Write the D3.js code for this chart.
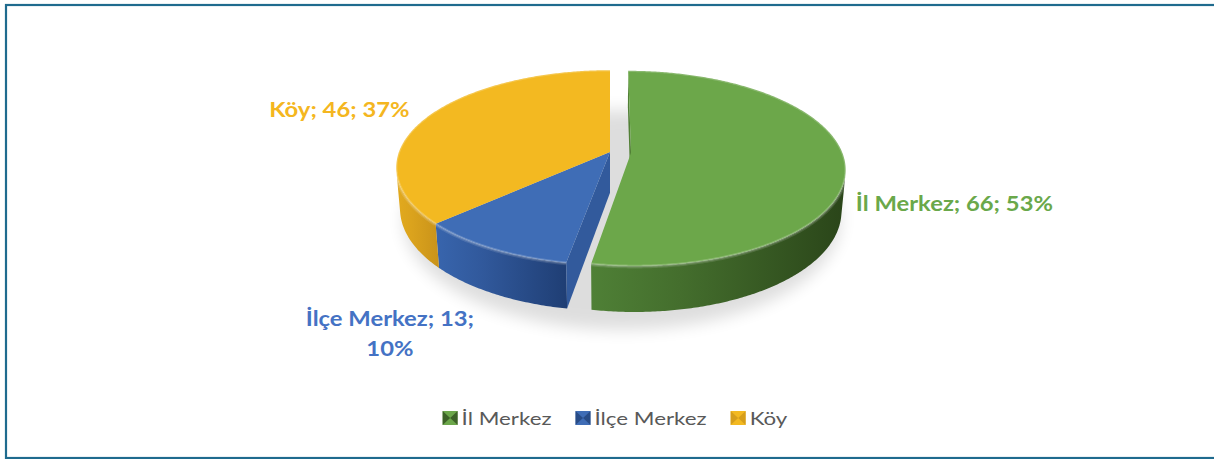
<!DOCTYPE html>
<html>
<head>
<meta charset="utf-8">
<script src="https://cdn.jsdelivr.net/npm/d3@7"></script>
<style>
  html, body { margin: 0; padding: 0; background: #fff; }
  svg { display: block; }
</style>
</head>
<body>
<div id="chart"></div>
<script>
// data
var categories = ["İl Merkez", "İlçe Merkez", "Köy"];
var values = [66, 13, 46];
var exploded = [true, false, false];

// colours
var topColors  = ["#6ca74a", "#3f6db6", "#f3b921"];
var wallLight  = ["#4f8036", "#3865ad", "#e2aa1e"];
var wallDark   = ["#2a4519", "#1f3e74", "#c9931a"];
var labelColors = ["#6aa84a", "#4472c4", "#f4b620"];

var W = 1214, H = 459;

// simple perspective camera for the 3D pie (pie radius = 1)
var cam = { ox: 610, oy: 152, f: 1186, D: 5.62, tilt: 26.7 * Math.PI / 180 };
var sinT = Math.sin(cam.tilt), cosT = Math.cos(cam.tilt);
var thick = 0.22, explodeDist = 0.1;
var textScale = 1.19, legendScale = 1.24;

// label offsets from the projected rim point at each slice's middle angle
var labelOffsets = [
  { dx: 11, dy: 50, anchor: "start" },
  { dx: -102, dy: 77, anchor: "middle" },
  { dx: -19, dy: 1, anchor: "end" }
];

var svg = d3.select("#chart").append("svg")
    .attr("width", W)
    .attr("height", H);

var defs = svg.append("defs");

defs.append("filter").attr("id", "blur")
    .attr("x", "-30%").attr("y", "-30%").attr("width", "160%").attr("height", "160%")
  .append("feGaussianBlur").attr("stdDeviation", 8);

categories.forEach(function(c, i) {
  var g = defs.append("linearGradient").attr("id", "wall" + i)
      .attr("x1", 0).attr("x2", 1).attr("y1", 0).attr("y2", 0);
  g.append("stop").attr("offset", "0%").attr("stop-color", wallLight[i]);
  g.append("stop").attr("offset", "35%").attr("stop-color", d3.interpolateRgb(wallLight[i], wallDark[i])(0.3));
  g.append("stop").attr("offset", "100%").attr("stop-color", wallDark[i]);
});

// frame
svg.append("rect")
    .attr("x", 6).attr("y", 5)
    .attr("width", W + 10).attr("height", 453)
    .attr("fill", "none")
    .attr("stroke", "#1f6b8e")
    .attr("stroke-width", 2.2);

function proj(X, Y, Z) {
  var d = cam.D + Z * cosT - Y * sinT;
  return [cam.ox + cam.f * X / d, cam.oy - cam.f * (cosT * Y + sinT * Z) / d];
}

var total = d3.sum(values);
var pie = d3.pie().sort(null).value(function(d) { return d; });
var arcs = pie(values);

arcs.forEach(function(a, i) {
  a.mid = (a.startAngle + a.endAngle) / 2;
  var e = exploded[i] ? explodeDist : 0;
  a.ex = Math.sin(a.mid) * e;
  a.ez = Math.cos(a.mid) * e;
  a.i = i;
});

function rimPt(a, t, Y) {
  return proj(Math.sin(t) + a.ex, Y || 0, Math.cos(t) + a.ez);
}
function centerPt(a, Y) {
  return proj(a.ex, Y || 0, a.ez);
}
function samples(t0, t1) {
  var n = Math.max(2, Math.ceil((t1 - t0) / 0.01));
  return d3.range(n + 1).map(function(k) { return t0 + (t1 - t0) * k / n; });
}
// is the outer wall at angle t facing the camera
function wallVisible(a, t) {
  var camZ = -cam.D * cosT;
  var X = Math.sin(t) + a.ex, Z = Math.cos(t) + a.ez;
  return Math.sin(t) * (-X) + Math.cos(t) * (camZ - Z) > 0;
}

var line = d3.line();
var poly = function(pts) { return line(pts) + "Z"; };

// shadow
var sh = [proj(0, -thick, -0.15), proj(1.0, -thick, -0.15), proj(0, -thick, -1.05)];
svg.append("ellipse")
    .attr("cx", sh[0][0] + 12).attr("cy", sh[0][1] + 12)
    .attr("rx", sh[1][0] - sh[0][0] + 6).attr("ry", sh[2][1] - sh[0][1])
    .attr("fill", "#000")
    .attr("opacity", 0.13)
    .attr("filter", "url(#blur)");

var g = svg.append("g");

// outer walls
arcs.forEach(function(a) {
  var vis = samples(a.startAngle, a.endAngle).filter(function(t) { return wallVisible(a, t); });
  if (vis.length < 2) return;
  var top = vis.map(function(t) { return rimPt(a, t, 0); });
  var bot = vis.slice().reverse().map(function(t) { return rimPt(a, t, -thick); });
  g.append("path").attr("d", poly(top.concat(bot))).attr("fill", "url(#wall" + a.i + ")");
  // light edge where the wall meets the top
  g.append("path").attr("d", line(top))
      .attr("fill", "none")
      .attr("stroke", "#fff")
      .attr("stroke-opacity", 0.12)
      .attr("stroke-width", 5);
});

// cut faces next to a gap
arcs.forEach(function(a, i) {
  var prev = arcs[(i + arcs.length - 1) % arcs.length];
  var next = arcs[(i + 1) % arcs.length];
  var camZ = -cam.D * cosT;
  var faces = [];
  var ts = a.startAngle, te = a.endAngle;
  var dotS = Math.cos(ts) * a.ex + Math.sin(ts) * (camZ - a.ez);
  var dotE = -Math.cos(te) * a.ex - Math.sin(te) * (camZ - a.ez);
  if (dotS > 0.01 && (exploded[i] || exploded[prev.i])) faces.push(ts);
  if (dotE > 0.01 && (exploded[i] || exploded[next.i])) faces.push(te);
  faces.forEach(function(t) {
    var pts = [centerPt(a, 0), rimPt(a, t, 0), rimPt(a, t, -thick), centerPt(a, -thick)];
    g.append("path").attr("d", poly(pts))
        .attr("fill", d3.interpolateRgb(topColors[a.i], wallDark[a.i])(0.4));
  });
});

// top faces
arcs.forEach(function(a) {
  var rim = samples(a.startAngle, a.endAngle).map(function(t) { return rimPt(a, t, 0); });
  g.append("path").attr("d", poly([centerPt(a, 0)].concat(rim))).attr("fill", topColors[a.i]);
  // soft bevel along the rim
  g.append("path")
      .attr("d", line(rim))
      .attr("fill", "none")
      .attr("stroke", "#fff")
      .attr("stroke-opacity", 0.2)
      .attr("stroke-width", 2.5);
});

// data labels
var fmt = function(i) {
  return Math.round(values[i] / total * 100) + "%";
};
arcs.forEach(function(a) {
  var p = rimPt(a, a.mid, 0);
  var o = labelOffsets[a.i];
  var t = svg.append("text")
      .attr("transform", "translate(" + (p[0] + o.dx) + "," + (p[1] + o.dy) + ") scale(" + textScale + ",1)")
      .attr("text-anchor", o.anchor)
      .attr("fill", labelColors[a.i])
      .style("font-family", "Lato, 'Open Sans', sans-serif")
      .style("font-weight", "bold")
      .style("font-size", "20px");
  if (a.i === 1) {
    t.append("tspan").attr("x", 0).text(categories[a.i] + "; " + values[a.i] + ";");
    t.append("tspan").attr("x", 0).attr("dy", 30).text(fmt(a.i));
  } else {
    t.text(categories[a.i] + "; " + values[a.i] + "; " + fmt(a.i));
  }
});

// legend
var legend = svg.append("g");
var lx = 0, mw = 15, mh = 14, gap = 4, itemGap = 24;
categories.forEach(function(c, i) {
  var it = legend.append("g").attr("transform", "translate(" + lx + ",0)");
  it.append("rect").attr("x", 0).attr("y", -mh).attr("width", mw).attr("height", mh).attr("fill", topColors[i]);
  it.append("path")
      .attr("d", "M0," + (-mh) + "L" + mw / 2 + "," + (-mh / 2) + "L0,0Z M" + mw + "," + (-mh) +
           "L" + mw / 2 + "," + (-mh / 2) + "L" + mw + ",0Z")
      .attr("fill", wallDark[i]).attr("opacity", 0.7);
  var txt = it.append("text")
      .attr("transform", "translate(" + (mw + gap) + ",0) scale(" + legendScale + ",1)")
      .attr("fill", "#595959")
      .style("font-family", "Lato, 'Open Sans', sans-serif")
      .style("font-size", "18px")
      .text(c);
  lx += mw + gap + txt.node().getComputedTextLength() * legendScale + itemGap;
});
var legendW = lx - itemGap;
legend.attr("transform", "translate(" + (615 - legendW / 2) + ",425)");
</script>
</body>
</html>
